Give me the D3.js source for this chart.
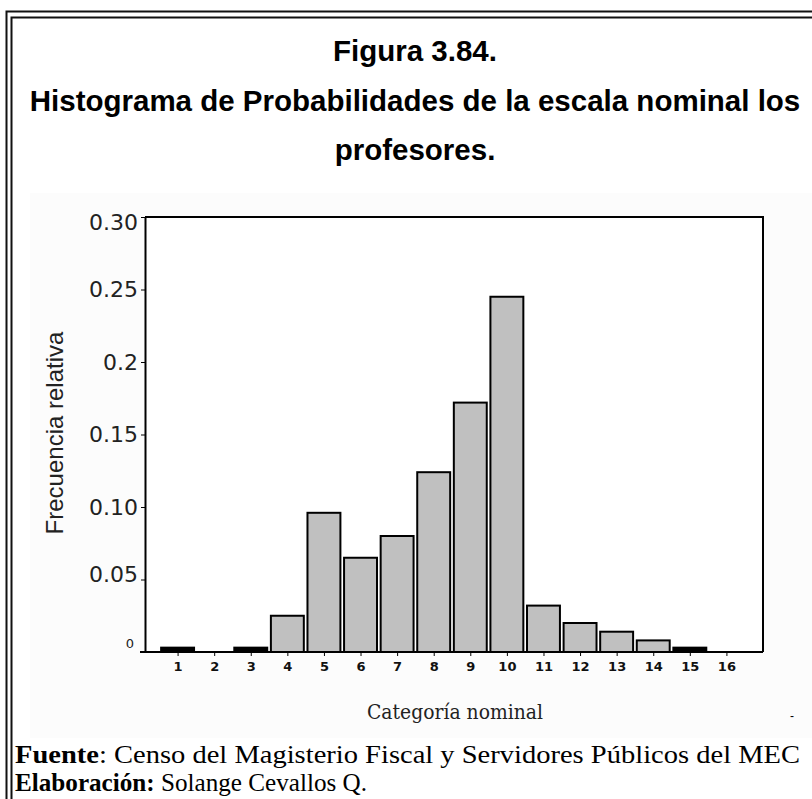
<!DOCTYPE html>
<html>
<head>
<meta charset="utf-8">
<script src="https://cdn.jsdelivr.net/npm/d3@7"></script>
<style>
  body { margin: 0; background: #ffffff; }
</style>
</head>
<body>
<div id="chart"></div>
<script>
//Categories on the x axis and their relative frequencies
const categories = [1, 2, 3, 4, 5, 6, 7, 8, 9, 10, 11, 12, 13, 14, 15, 16];
const frecuencias = [0.003, 0, 0.003, 0.025, 0.096, 0.065, 0.080, 0.124, 0.172, 0.245, 0.032, 0.020, 0.014, 0.008, 0.003, 0];

//Y axis ticks and the labels the original shows for them
const yTicks = [0.30, 0.25, 0.20, 0.15, 0.10, 0.05, 0];
const yTickLabels = ["0.30", "0.25", "0.2", "0.15", "0.10", "0.05", "0"];

const titleLines = ["Figura 3.84.", "Histograma de Probabilidades de la escala nominal los", "profesores."];

const width = 812;
const height = 799;

//Plot box inside the page
const plot = {left: 145, right: 763, top: 217, bottom: 652};

const svg = d3.select("#chart")
    .append("svg")
    .attr("width", width)
    .attr("height", height);

//Very light panel behind the pasted chart
svg.append("rect")
    .attr("x", 30).attr("y", 193)
    .attr("width", 782).attr("height", 545)
    .attr("fill", "#fcfcfc");

//Double frame around the figure (only the left and top sides are visible)
[[6.5, 11.5], [11.5, 17.5]].forEach(([fx, fy]) => {
    svg.append("path")
        .attr("d", `M${fx},${height}V${fy}H${width}`)
        .attr("fill", "none")
        .attr("stroke", "#111")
        .attr("stroke-width", 2);
});

//Title
svg.append("g")
    .selectAll("text")
    .data(titleLines)
    .join("text")
    .attr("x", 415)
    .attr("y", (d, i) => 61 + i * 49.5)
    .attr("text-anchor", "middle")
    .style("font-family", "'Liberation Sans', Arial, sans-serif")
    .style("font-weight", "bold")
    .style("font-size", "29.5px")
    .text(d => d);

//Scales
const xScale = d3.scaleLinear()
    .domain([0, 17])
    .range([141, 763]);

const yScale = d3.scaleLinear()
    .domain([0, 0.30])
    .range([plot.bottom, plot.top]);

const step = xScale(1) - xScale(0);

//White plot area
svg.append("rect")
    .attr("x", plot.left).attr("y", plot.top)
    .attr("width", plot.right - plot.left)
    .attr("height", plot.bottom - plot.top)
    .attr("fill", "#ffffff");

//Bars (the very short ones come out solid black in the original)
svg.append("g")
    .selectAll("rect")
    .data(categories.map((c, i) => ({cat: c, val: frecuencias[i]})).filter(d => d.val > 0))
    .join("rect")
    .attr("x", d => xScale(d.cat) - step * 0.45)
    .attr("width", step * 0.9)
    .attr("y", d => yScale(d.val))
    .attr("height", d => yScale(0) - yScale(d.val))
    .attr("fill", d => yScale(0) - yScale(d.val) < 5 ? "#000" : "#c0c0c0")
    .attr("stroke", "#000")
    .attr("stroke-width", 2);

//Frame of the plot (top and right sides)
svg.append("path")
    .attr("d", `M${plot.left},${plot.top}H${plot.right}V${plot.bottom}`)
    .attr("fill", "none")
    .attr("stroke", "#000")
    .attr("stroke-width", 2);

//X axis
const xAxis = svg.append("g")
    .attr("transform", `translate(0,${plot.bottom})`)
    .call(d3.axisBottom(xScale)
        .tickValues(categories)
        .tickFormat(d3.format("d"))
        .tickSize(4)
        .tickSizeOuter(0)
        .tickPadding(6));
xAxis.select(".domain")
    .attr("d", `M140,0H${plot.right}`)
    .attr("stroke-width", 2);
xAxis.selectAll("text")
    .style("font-family", "'DejaVu Sans', sans-serif")
    .style("font-weight", "bold")
    .style("font-size", "13px")
    .attr("fill", "#111");

//Y axis
const yAxis = svg.append("g")
    .attr("transform", `translate(${plot.left},0)`)
    .call(d3.axisLeft(yScale)
        .tickValues(yTicks)
        .tickFormat((d, i) => yTickLabels[i])
        .tickSize(4)
        .tickSizeOuter(0)
        .tickPadding(3));
yAxis.select(".domain").attr("stroke-width", 2);
yAxis.selectAll("text")
    .style("font-family", "'DejaVu Sans', sans-serif")
    .style("font-size", "22px")
    .attr("fill", "#222");
//Nudge the top label down and the lowest two up, as in the original
yAxis.selectAll(".tick text")
    .attr("dy", (d) => d === 0.30 ? "0.55em" : d === 0.05 ? "0.1em" : "0.32em");
yAxis.selectAll(".tick")
    .filter(d => d === 0)
    .select("text")
    .style("font-size", "13px")
    .attr("dx", "-4px")
    .attr("dy", "-0.35em");

//Axis titles
svg.append("text")
    .attr("transform", "translate(63,433) rotate(-90)")
    .attr("text-anchor", "middle")
    .style("font-family", "'Liberation Sans', Arial, sans-serif")
    .style("font-size", "24px")
    .attr("fill", "#222")
    .text("Frecuencia relativa");

svg.append("text")
    .attr("x", 455)
    .attr("y", 719)
    .attr("text-anchor", "middle")
    .style("font-family", "'DejaVu Serif', serif")
    .style("font-size", "20px")
    .attr("textLength", 176)
    .attr("lengthAdjust", "spacingAndGlyphs")
    .attr("fill", "#222")
    .text("Categoría nominal");

svg.append("text")
    .attr("x", 790)
    .attr("y", 720)
    .style("font-family", "'Liberation Sans', sans-serif")
    .style("font-size", "12px")
    .text("-");

//Source lines under the chart
const footer = svg.append("g")
    .style("font-family", "'Liberation Serif', 'Times New Roman', serif")
    .style("font-size", "26px");

const f1 = footer.append("text").attr("x", 15).attr("y", 763)
    .attr("textLength", 785)
    .attr("lengthAdjust", "spacingAndGlyphs");
f1.append("tspan").style("font-weight", "bold").text("Fuente");
f1.append("tspan").text(":  Censo del Magisterio Fiscal y Servidores Públicos del MEC");

const f2 = footer.append("text").attr("x", 15).attr("y", 791)
    .attr("textLength", 352)
    .attr("lengthAdjust", "spacingAndGlyphs");
f2.append("tspan").style("font-weight", "bold").text("Elaboración:");
f2.append("tspan").text(" Solange Cevallos Q.");
</script>
</body>
</html>
